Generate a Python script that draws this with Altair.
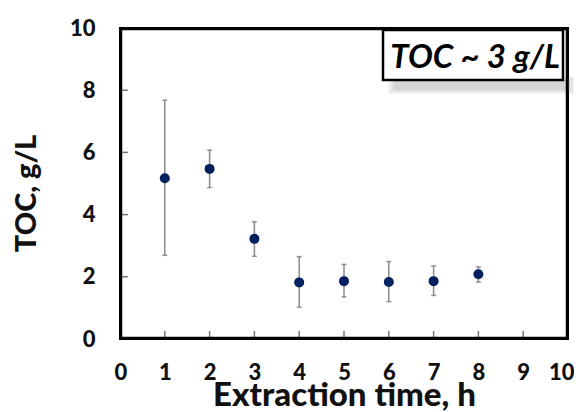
import altair as alt
import pandas as pd

# ---- data ----
hours = [1, 2, 3, 4, 5, 6, 7, 8]
toc = [5.17, 5.47, 3.22, 1.82, 1.86, 1.83, 1.86, 2.08]
toc_low = [2.69, 4.87, 2.66, 1.02, 1.35, 1.20, 1.40, 1.83]
toc_high = [7.68, 6.07, 3.77, 2.65, 2.40, 2.49, 2.35, 2.32]
x_ticks = [0, 1, 2, 3, 4, 5, 6, 7, 8, 9, 10]
y_ticks = [0, 2, 4, 6, 8, 10]
x_inner_ticks = [1, 2, 3, 4, 5, 6, 7, 8, 9]
y_inner_ticks = [2, 4, 6, 8]
annotation = "TOC ~ 3 g/L"
x_title = "Extraction time, h"
y_title = "TOC, g/L"

W, H = 448, 311
FONT = "Lato"

df = pd.DataFrame({"t": hours, "toc": toc, "lo": toc_low, "hi": toc_high})
df_xt = pd.DataFrame({"t": x_inner_ticks})
df_yt = pd.DataFrame({"v": y_inner_ticks})
df_note = pd.DataFrame({"label": [annotation]})

xscale = alt.Scale(domain=[0, 10], nice=False, zero=False)
yscale = alt.Scale(domain=[0, 10], nice=False, zero=False)

xaxis = alt.Axis(values=x_ticks, ticks=False, tickSize=0, domain=False, grid=False,
                 labelFont=FONT, labelFontSize=22, labelFontWeight=900, labelColor="#111",
                 labelPadding=23, title=x_title, titleFont=FONT, titleFontSize=33,
                 titleFontWeight=900, titleColor="#111", titleBaseline="alphabetic",
                 titleY=66, labelFlush=True, labelFlushOffset=6)
yaxis = alt.Axis(values=y_ticks, ticks=False, tickSize=0, domain=False, grid=False,
                 labelFont=FONT, labelFontSize=22, labelFontWeight=900, labelColor="#111",
                 labelPadding=25, title=y_title, titleFont=FONT, titleFontSize=29,
                 titleFontWeight=900, titleColor="#111", titleX=-94, titleY=165,
                 titleAlign="center", titleBaseline="middle", labelFlush=False)

base = alt.Chart(df)

points = base.mark_point(filled=True, size=100, color="#002060", opacity=1).encode(
    x=alt.X("t:Q", scale=xscale, axis=xaxis),
    y=alt.Y("toc:Q", scale=yscale, axis=yaxis),
)
err = base.mark_rule(color="#8a8a8a", strokeWidth=1.5).encode(
    x="t:Q", y="lo:Q", y2="hi:Q"
)
cap_lo = base.mark_tick(color="#6e6e6e", thickness=1.5, size=5, orient="horizontal").encode(
    x="t:Q", y="lo:Q"
)
cap_hi = base.mark_tick(color="#6e6e6e", thickness=1.5, size=5, orient="horizontal").encode(
    x="t:Q", y="hi:Q"
)

xt = alt.Chart(df_xt).mark_rule(color="#777", strokeWidth=1.5).encode(
    x="t:Q", y=alt.value(H), y2=alt.value(H - 8)
)
yt = alt.Chart(df_yt).mark_rule(color="#777", strokeWidth=1.5).encode(
    y="v:Q", x=alt.value(0), x2=alt.value(8)
)

# shadow of the annotation box (layered soft rects)
shadows = []
for dx, dy, op in [(0, 0, 0.10), (3, 2, 0.12), (6, 4, 0.14)]:
    shadows.append(
        alt.Chart(df_note).mark_rect(color="#808080", opacity=op).encode(
            x=alt.value(268 + dx), x2=alt.value(456 - dx),
            y=alt.value(48 + dy), y2=alt.value(66 - dy),
        )
    )

# plot frame: four rules set just inside the plot edge
fr = dict(color="black", strokeWidth=2.5, strokeCap="square")
frame = [
    alt.Chart(df_note).mark_rule(**fr).encode(x=alt.value(1), x2=alt.value(W - 1), y=alt.value(1)),
    alt.Chart(df_note).mark_rule(**fr).encode(x=alt.value(1), x2=alt.value(W - 1), y=alt.value(H - 1)),
    alt.Chart(df_note).mark_rule(**fr).encode(x=alt.value(1), y=alt.value(1), y2=alt.value(H - 1)),
    alt.Chart(df_note).mark_rule(**fr).encode(x=alt.value(W - 1), y=alt.value(1), y2=alt.value(H - 1)),
]

box = alt.Chart(df_note).mark_rect(fill="white", stroke="black", strokeWidth=2.5).encode(
    x=alt.value(263), x2=alt.value(443), y=alt.value(2), y2=alt.value(52)
)
note = alt.Chart(df_note).mark_text(
    font=FONT, fontSize=33, fontWeight="bold", fontStyle="italic", color="black",
    align="center", baseline="alphabetic"
).encode(text="label:N", x=alt.value(355), y=alt.value(40))

edge = alt.Chart(df_note).mark_rule(color="#e2e2e2", strokeWidth=2).encode(
    x=alt.value(-117), y=alt.value(-20), y2=alt.value(362)
)

chart = alt.layer(
    edge, xt, yt, err, cap_lo, cap_hi, points, *shadows, *frame, box, note
).properties(
    width=W, height=H,
    autosize=alt.AutoSizeParams(type="none"),
    padding={"left": 112, "top": 20, "right": 6, "bottom": 73},
).configure(
    background="white",
    view=alt.ViewConfig(stroke="black", strokeWidth=2),
)

chart.save("out.html", embed_options={"renderer": "svg", "actions": False})
